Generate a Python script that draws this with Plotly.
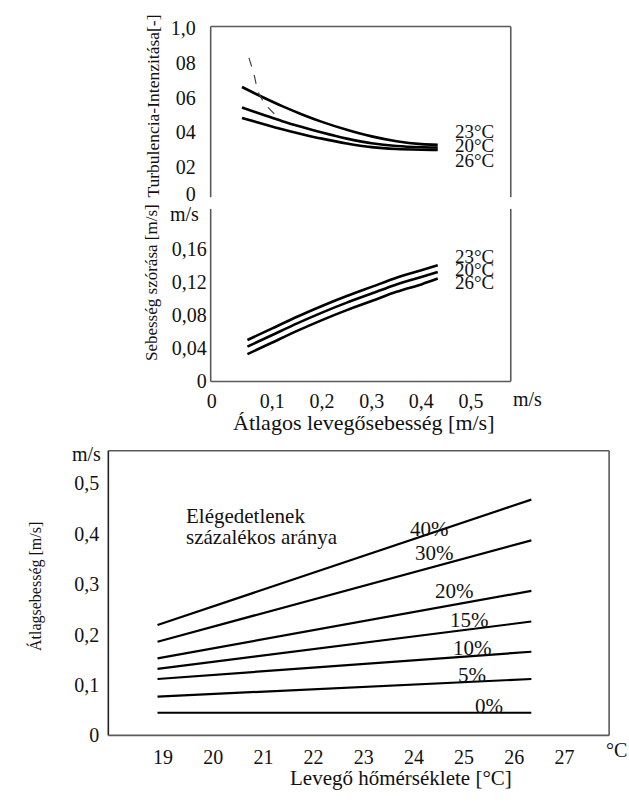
import plotly.graph_objects as go

W, H = 629, 802

# ---------------- data ----------------
# Top panel: turbulence intensity [-] vs mean air speed [m/s]
ti_speed = [0.039, 0.08, 0.12, 0.16, 0.20, 0.25, 0.30, 0.35, 0.40, 0.433]
ti_23 = [0.661, 0.603, 0.550, 0.502, 0.459, 0.413, 0.375, 0.347, 0.330, 0.326]
ti_20 = [0.542, 0.502, 0.463, 0.429, 0.397, 0.362, 0.335, 0.319, 0.312, 0.311]
ti_26 = [0.482, 0.448, 0.416, 0.388, 0.362, 0.334, 0.313, 0.302, 0.298, 0.297]
ti_dash_speed = [0.053, 0.063, 0.073, 0.090, 0.113]
ti_dash = [0.830, 0.736, 0.623, 0.548, 0.482]
ti_ticks = [1.0, 0.8, 0.6, 0.4, 0.2, 0.04]
ti_ticktext = ["1,0", "08", "06", "04", "02", "0"]

# Middle panel: standard deviation of speed [m/s] vs mean air speed [m/s]
sd_speed = [0.05, 0.10, 0.15, 0.20, 0.25, 0.30, 0.35, 0.40, 0.433]
sd_23 = [0.050, 0.064, 0.078, 0.091, 0.103, 0.114, 0.125, 0.134, 0.140]
sd_20 = [0.042, 0.056, 0.070, 0.083, 0.095, 0.106, 0.117, 0.126, 0.132]
sd_26 = [0.033, 0.047, 0.061, 0.074, 0.086, 0.097, 0.108, 0.117, 0.124]
sd_ticks = [0, 0.04, 0.08, 0.12, 0.16]
sd_ticktext = ["0", "0,04", "0,08", "0,12", "0,16"]
speed_ticks = [-0.022, 0.1, 0.2, 0.3, 0.4, 0.5]
speed_ticktext = ["0", "0,1", "0,2", "0,3", "0,4", "0,5"]
temp_labels = ["23°C", "20°C", "26°C"]

# Bottom panel: mean speed [m/s] vs air temperature [°C], per % dissatisfied
air_temp = [18.89, 26.34]
pct_labels = ["0%", "5%", "10%", "15%", "20%", "30%", "40%"]
pct_speed = [
    [0.045, 0.045],
    [0.077, 0.112],
    [0.112, 0.166],
    [0.132, 0.226],
    [0.153, 0.287],
    [0.186, 0.387],
    [0.219, 0.468],
]
temp_ticks = [19, 20, 21, 22, 23, 24, 25, 26, 27]
v_ticks = [0, 0.1, 0.2, 0.3, 0.4, 0.5]
v_ticktext = ["0", "0,1", "0,2", "0,3", "0,4", "0,5"]

# ---------------- layout helpers (pixels -> paper) ----------------
def px(x):
    return x / W

def py(y):
    return 1 - y / H

SERIF = "Liberation Serif"
BLACK = "#000000"
BORDER = "#5a5a5a"
TEXT = "#111111"

fig = go.Figure()

# top panel curves
for ys in (ti_23, ti_20, ti_26):
    fig.add_trace(go.Scatter(x=ti_speed, y=ys, mode="lines", xaxis="x", yaxis="y",
                             line=dict(color=BLACK, width=2.6, shape="spline", smoothing=0.8),
                             showlegend=False, hoverinfo="skip"))
fig.add_trace(go.Scatter(x=ti_dash_speed, y=ti_dash, mode="lines", xaxis="x", yaxis="y",
                         line=dict(color="#444444", width=1.2, dash="dash", shape="spline"),
                         showlegend=False, hoverinfo="skip"))

# middle panel curves
for ys in (sd_23, sd_20, sd_26):
    fig.add_trace(go.Scatter(x=sd_speed, y=ys, mode="lines", xaxis="x2", yaxis="y2",
                             line=dict(color=BLACK, width=2.6, shape="spline", smoothing=0.8),
                             showlegend=False, hoverinfo="skip"))

# bottom panel lines
for ys in pct_speed:
    fig.add_trace(go.Scatter(x=air_temp, y=ys, mode="lines", xaxis="x3", yaxis="y3",
                             line=dict(color=BLACK, width=2.2),
                             showlegend=False, hoverinfo="skip"))

tickfont = dict(family=SERIF, size=20, color=TEXT)

top_dom_x = [px(208), px(510)]
bot_dom_x = [px(105), px(609)]

fig.update_layout(
    width=W, height=H,
    margin=dict(l=0, r=0, t=0, b=0),
    paper_bgcolor="white", plot_bgcolor="white",
    showlegend=False,
    xaxis=dict(domain=top_dom_x, range=[-0.024, 0.58], visible=False, anchor="y"),
    yaxis=dict(domain=[py(193), py(18)], range=[0.023, 1.011], anchor="x",
               tickvals=ti_ticks, ticktext=ti_ticktext, tickfont=tickfont,
               showgrid=False, zeroline=False, showline=False, ticks="",
               ticklabelstandoff=14),
    xaxis2=dict(domain=top_dom_x, range=[-0.024, 0.58], anchor="y2",
                tickvals=speed_ticks, ticktext=speed_ticktext, tickfont=tickfont,
                showgrid=False, zeroline=False, showline=False, ticks="",
                ticklabelstandoff=6),
    yaxis2=dict(domain=[py(382), py(205)], range=[0, 0.208], anchor="x2",
                tickvals=sd_ticks, ticktext=sd_ticktext, tickfont=tickfont,
                showgrid=False, zeroline=False, showline=False, ticks="",
                ticklabelstandoff=3),
    xaxis3=dict(domain=bot_dom_x, range=[17.91, 27.89], anchor="y3",
                tickvals=temp_ticks, tickfont=tickfont,
                showgrid=False, zeroline=False, showline=False, ticks="",
                ticklabelstandoff=8),
    yaxis3=dict(domain=[py(745), py(453)], range=[0, 0.565], anchor="x3",
                tickvals=v_ticks, ticktext=v_ticktext, tickfont=tickfont,
                showgrid=False, zeroline=False, showline=False, ticks="",
                ticklabelstandoff=8),
)

# frames
def seg(x0, y0, x1, y1, color=BORDER, width=1.6):
    fig.add_shape(type="line", xref="paper", yref="paper",
                  x0=px(x0), y0=py(y0), x1=px(x1), y1=py(y1),
                  line=dict(color=color, width=width))

# top panel: left, top, right
seg(208, 18, 208, 193)
seg(208, 18, 510, 18)
seg(510, 18, 510, 193)
# middle panel: left, bottom, right
seg(208, 205, 208, 382)
seg(208, 382, 510, 382)
seg(510, 205, 510, 382)
# bottom panel: full box
seg(105, 453, 609, 453)
seg(105, 453, 105, 745, color="#222222")
seg(105, 745, 609, 745)
seg(609, 453, 609, 745)

def ann(text, x, y, size=20, xanchor="center", yanchor="middle", angle=0, color=TEXT):
    fig.add_annotation(text=text, x=px(x), y=py(y), xref="paper", yref="paper",
                       showarrow=False, xanchor=xanchor, yanchor=yanchor,
                       textangle=angle, borderpad=0,
                       font=dict(family=SERIF, size=size, color=color))

# unit labels
ann("m/s", 182, 210)
ann("m/s", 527, 400)
ann("m/s", 83, 456)
ann("°C", 616, 760)

# temperature labels
for t, y in zip(temp_labels, [126, 140, 155]):
    ann(t, 474, y, size=19)
for t, y in zip(temp_labels, [254, 267, 281]):
    ann(t, 474, y, size=19)

# percent labels
pct_pos = [(488, 715), (471, 683), (472, 655), (468, 627), (453, 597), (433, 558), (428, 533)]
for t, (x, y) in zip(pct_labels, pct_pos):
    ann(t, x, y, size=21)

ann("Elégedetlenek", 182, 520, size=21, xanchor="left")
ann("százalékos aránya", 182, 541, size=21, xanchor="left")

# axis titles
ann("Turbulencia-Intenzitása[-]", 149, 100, size=17.5, angle=-90)
ann("Sebesség szórása [m/s]", 149, 281, size=17, angle=-90)
ann("Átlagos levegősebesség [m/s]", 362, 424, size=22)
ann("Átlagsebesség [m/s]", 31, 592, size=16, angle=-90)
ann("Levegő hőmérséklete [°C]", 400, 802, size=21, yanchor="bottom")

fig.write_html("out.html")
